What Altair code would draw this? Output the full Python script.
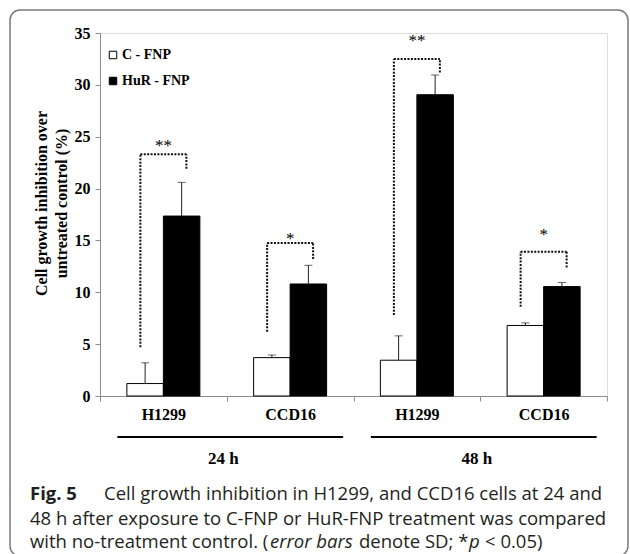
import altair as alt
import pandas as pd

# ---------------- data ----------------
time_points = ["24 h", "24 h", "48 h", "48 h"]
cell_lines = ["H1299", "CCD16", "H1299", "CCD16"]
series_names = ["C - FNP", "HuR - FNP"]
c_fnp = [1.2, 3.7, 3.45, 6.8]
c_fnp_sd = [2.0, 0.25, 2.35, 0.25]
hur_fnp = [17.35, 10.8, 29.05, 10.55]
hur_fnp_sd = [3.25, 1.8, 1.9, 0.4]
stars = ["**", "*", "**", "*"]
bracket_top = [23.3, 14.75, 32.5, 13.9]
bracket_left_end = [4.7, 6.2, 7.8, 8.6]
bracket_right_end = [21.9, 13.2, 31.2, 12.4]
star_level = [24.4, 15.4, 34.5, 15.8]
y_ticks = [0, 5, 10, 15, 20, 25, 30, 35]
group_names = ["24 h", "48 h"]

SERIF = "Liberation Serif"
SANS = "Open Sans"
GRAY = "#8c8c8c"

keys = [f"{t}|{c}" for t, c in zip(time_points, cell_lines)]

bars_df = pd.DataFrame({
    "key": keys * 2,
    "series": [series_names[0]] * 4 + [series_names[1]] * 4,
    "value": c_fnp + hur_fnp,
    "sd": c_fnp_sd + hur_fnp_sd,
})
bars_df["upper"] = bars_df["value"] + bars_df["sd"]

sig_df = pd.DataFrame({
    "key": keys, "top": bracket_top, "lbot": bracket_left_end,
    "rbot": bracket_right_end, "stars": stars, "star_y": star_level,
})

grp_df = pd.DataFrame({
    "group": group_names,
    "first": [keys[0], keys[2]],
    "last": [keys[1], keys[3]],
})

one = pd.DataFrame({"d": [0]})

x_scale = alt.Scale(domain=keys, paddingInner=0, paddingOuter=0)
y_scale = alt.Scale(domain=[0, 35], nice=False)
xoff = alt.XOffset("series:N", scale=alt.Scale(domain=series_names, paddingInner=0, paddingOuter=0.736))

x_axis = alt.Axis(
    title=None, labelExpr="split(datum.label, '|')[1]", labelAngle=0, tickBand="extent",
    labelFont=SERIF, labelFontWeight="bold", labelFontSize=16, labelColor="black",
    domainColor=GRAY, tickColor=GRAY, tickSize=5, labelPadding=5, grid=False)
y_axis = alt.Axis(
    values=y_ticks, grid=False, title=["Cell growth inhibition over", "untreated control (%)"],
    titleFont=SERIF, titleFontWeight="bold", titleFontSize=16, titleColor="black",
    titleLineHeight=20, titlePadding=5, titleY=170,
    labelFont=SERIF, labelFontWeight="bold", labelFontSize=16, labelColor="black",
    domainColor=GRAY, tickColor=GRAY, tickSize=5, labelPadding=5)


def X(field):
    return alt.X(f"{field}:N", scale=x_scale, sort=keys, axis=x_axis)


def Y(field):
    return alt.Y(f"{field}:Q", scale=y_scale, axis=y_axis)


bars = alt.Chart(bars_df).mark_bar(stroke="black", strokeWidth=1).encode(
    x=X("key"), xOffset=xoff, y=Y("value"),
    fill=alt.Fill("series:N", scale=alt.Scale(domain=series_names, range=["white", "black"]),
                  legend=alt.Legend(title=None, orient="none", legendX=6, legendY=15,
                                    symbolType="square", symbolSize=56, symbolStrokeColor="black",
                                    symbolStrokeWidth=1, labelFont=SERIF, labelFontWeight="bold",
                                    labelFontSize=14, labelColor="black", rowPadding=12,
                                    labelOffset=2, padding=0)),
)

err = alt.Chart(bars_df).mark_rule(color="#222", strokeWidth=1).encode(
    x=X("key"), xOffset=xoff, y=Y("value"), y2="upper:Q")
cap = alt.Chart(bars_df).mark_tick(color="#222", thickness=1, size=8).encode(
    x=X("key"), xOffset=xoff, y=Y("upper"))

dot = dict(color="#111", strokeWidth=2, strokeDash=[2, 1.4])
left = alt.Chart(sig_df).mark_rule(xOffset=-23, **dot).encode(
    x=X("key"), y=Y("lbot"), y2="top:Q")
right = alt.Chart(sig_df).mark_rule(xOffset=23, **dot).encode(
    x=X("key"), y=Y("rbot"), y2="top:Q")
horiz = alt.Chart(sig_df).mark_rule(xOffset=-23, x2Offset=23, **dot).encode(
    x=X("key"), x2="key:N", y=Y("top"))
star_txt = alt.Chart(sig_df).mark_text(font=SERIF, fontSize=17, color="black", baseline="middle", dy=3).encode(
    x=X("key"), y=Y("star_y"), text="stars:N")

gline = alt.Chart(grp_df).mark_rule(color="black", strokeWidth=2, xOffset=-46, x2Offset=53).encode(
    x=X("first"), x2="last:N", y=alt.value(404))
glabel = alt.Chart(grp_df).mark_text(font=SERIF, fontWeight="bold", fontSize=17, color="black",
                                      dx=60, baseline="middle").encode(
    x=X("first"), y=alt.value(426), text="group:N")

border = alt.Chart(one).mark_rect(cornerRadius=10, fillOpacity=0, stroke="#7a7a7a", strokeWidth=1.5).encode(
    x=alt.value(-90), x2=alt.value(528), y=alt.value(-23), y2=alt.value(523))


def cap_text(txt, xpx, ypx, weight="normal", style="normal"):
    return alt.Chart(one).mark_text(font=SANS, fontSize=18.5, color="#231f20", align="left",
                                    baseline="middle", fontWeight=weight, fontStyle=style).encode(
        x=alt.value(xpx - 100), y=alt.value(ypx - 33), text=alt.value(txt))


L1, L2, L3 = 494, 518.5, 542
caption = [
    cap_text("Fig. 5", 30, L1, weight="bold"),
    cap_text("Cell growth inhibition in H1299, and CCD16 cells at 24 and", 104, L1),
    cap_text("48 h after exposure to C-FNP or HuR-FNP treatment was compared", 30, L2),
    cap_text("with no-treatment control. (", 30, L3),
    cap_text("error bars", 270, L3, style="italic"),
    cap_text("denote SD; *", 359, L3),
    cap_text("p", 469, L3, style="italic"),
    cap_text("< 0.05)", 485, L3),
]

chart = alt.layer(
    border, bars, err, cap, left, right, horiz, star_txt, gline, glabel, *caption
).properties(
    width=507, height=363,
    autosize=alt.AutoSizeParams(type="none"),
    padding={"left": 100, "top": 33, "right": 23, "bottom": 158},
).configure_view(strokeWidth=0).configure(background="white")

chart.save("out.html", embed_options={"renderer": "svg", "actions": False})
